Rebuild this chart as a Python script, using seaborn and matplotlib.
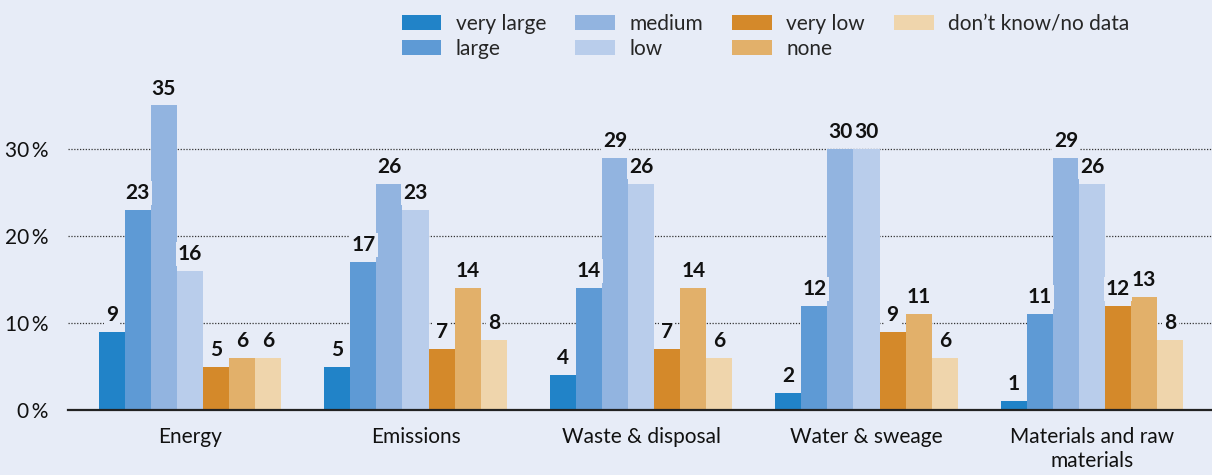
import matplotlib
matplotlib.use("Agg")
import matplotlib.pyplot as plt
import seaborn as sns
import pandas as pd

# Survey results: share of companies per impact level, by environmental area (%)
areas = ["Energy", "Emissions", "Waste & disposal", "Water & sweage",
         "Materials and raw\nmaterials"]
levels = ["very large", "large", "medium", "low", "very low", "none",
          "don\u2019t know/no data"]
very_large = [9, 5, 4, 2, 1]
large = [23, 17, 14, 12, 11]
medium = [35, 26, 29, 30, 29]
low = [16, 23, 26, 30, 26]
very_low = [5, 7, 7, 9, 12]
none = [6, 14, 14, 11, 13]
dont_know = [6, 8, 6, 6, 8]
y_ticks = [0, 10, 20, 30]
y_tick_labels = ["0\u2009%", "10\u2009%", "20\u2009%", "30\u2009%"]

series = [very_large, large, medium, low, very_low, none, dont_know]
palette = ["#2183c8", "#5e9ad5", "#92b4e0", "#b9cdeb",
           "#d4892a", "#e2b06a", "#efd5ac"]
bg = "#e7ecf7"

rows = []
for lvl, vals in zip(levels, series):
    for area, v in zip(areas, vals):
        rows.append({"area": area, "level": lvl, "value": v})
df = pd.DataFrame(rows)

sns.set_theme(style="white")
plt.rcParams["font.family"] = ["Lato", "DejaVu Sans"]

fig = plt.figure(figsize=(12.12, 4.75), dpi=100, facecolor=bg)
ax = fig.add_axes([68 / 1212, 1 - 410 / 475, 1 - 68 / 1212, 348 / 475])
ax.set_facecolor(bg)

sns.barplot(data=df, x="area", y="value", hue="level", order=areas,
            hue_order=levels, palette=palette, width=0.81, gap=0,
            saturation=1, linewidth=0, ax=ax, legend=True, zorder=2)

for cont in ax.containers:
    ax.bar_label(cont, fmt="%d", padding=5, fontsize=15, fontweight="bold",
                 color="#111111", zorder=4,
                 bbox=dict(facecolor=bg, edgecolor="none", pad=1.5))

ax.set_ylim(0, 40)
ax.set_xlim(-0.541, 4.532)
ax.set_yticks(y_ticks, y_tick_labels)
for y in y_ticks[1:]:
    ax.axhline(y, color="#333333", linestyle=(0, (1, 1.3)), linewidth=0.9,
               zorder=1)
ax.tick_params(axis="y", length=0, pad=14, labelsize=15, labelcolor="#111111")
ax.tick_params(axis="x", length=0, pad=12, labelsize=15, labelcolor="#111111")
for lbl in ax.get_xticklabels():
    lbl.set_linespacing(1.3)
ax.set_xlabel("")
ax.set_ylabel("")
for side in ["top", "right", "left"]:
    ax.spines[side].set_visible(False)
ax.spines["bottom"].set_color("#222222")
ax.spines["bottom"].set_linewidth(1.6)
ax.spines["bottom"].set_zorder(5)

handles, labels = ax.get_legend_handles_labels()
ax.get_legend().remove()
fig.legend(handles, labels, ncol=4, loc="upper left",
           bbox_to_anchor=(388 / 1212, 1.0), frameon=False, fontsize=15,
           handlelength=1.9, handleheight=0.75, handletextpad=0.7,
           columnspacing=1.4, labelspacing=0.25, borderaxespad=0.25)

fig.savefig("out.png", dpi=100, facecolor=bg)
